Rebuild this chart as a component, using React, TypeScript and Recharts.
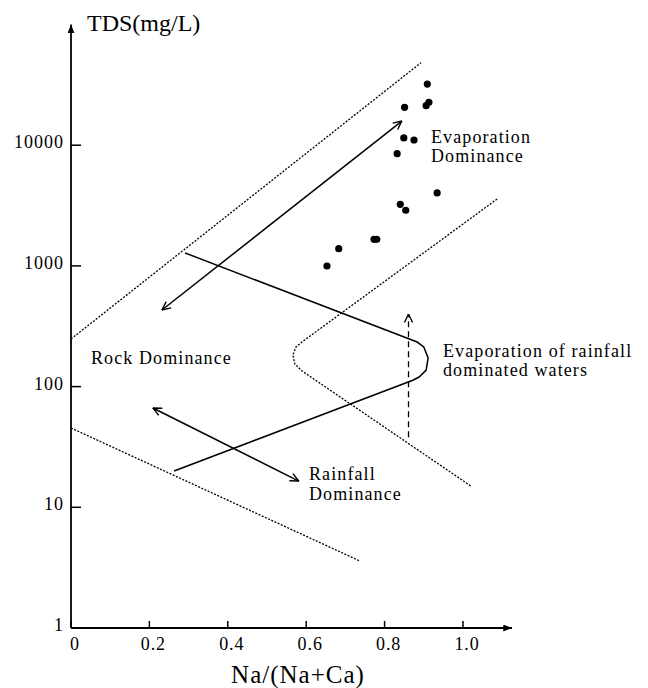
import { ComposedChart, Line, Scatter, XAxis, YAxis } from 'recharts'

const FONT = "'Liberation Serif', 'Times New Roman', serif"

const xTicks = [0, 0.2, 0.4, 0.6, 0.8, 1.0]
const xTickLabels = ['0', '0.2', '0.4', '0.6', '0.8', '1.0']
const yTicks = [1, 10, 100, 1000, 10000]
const yTickLabels = ['1', '10', '100', '1000', '10000']

// water samples, Na/(Na+Ca) vs TDS
const samples = [
  { x: 0.909, y: 32100 },
  { x: 0.913, y: 22700 },
  { x: 0.906, y: 21250 },
  { x: 0.851, y: 20600 },
  { x: 0.849, y: 11480 },
  { x: 0.875, y: 11040 },
  { x: 0.832, y: 8510 },
  { x: 0.934, y: 4020 },
  { x: 0.84, y: 3240 },
  { x: 0.854, y: 2890 },
  { x: 0.773, y: 1660 },
  { x: 0.78, y: 1660 },
  { x: 0.683, y: 1390 },
  { x: 0.653, y: 998 },
]

// dotted envelope lines
const upperBoundary = [
  { x: 0, y: 248 },
  { x: 0.893, y: 48300 },
]
const lowerBoundary = [
  { x: 0, y: 45.4 },
  { x: 0.737, y: 3.59 },
]
const innerBoundary = [
  { x: 1.087, y: 3580 },
  { x: 0.589, y: 234 },
  { x: 0.574, y: 213 },
  { x: 0.566, y: 183 },
  { x: 0.571, y: 154 },
  { x: 0.589, y: 135 },
  { x: 1.02, y: 15 },
]

// solid boomerang
const boomerang = [
  { x: 0.291, y: 1280 },
  { x: 0.883, y: 234 },
  { x: 0.9, y: 213 },
  { x: 0.911, y: 173 },
  { x: 0.906, y: 137 },
  { x: 0.888, y: 120 },
  { x: 0.872, y: 113 },
  { x: 0.263, y: 20 },
]

const evaporationArrow = [
  { x: 0.232, y: 431 },
  { x: 0.844, y: 15850 },
]
const rainfallArrow = [
  { x: 0.209, y: 66.5 },
  { x: 0.581, y: 16.5 },
]
const rainEvapArrow = [
  { x: 0.861, y: 38 },
  { x: 0.861, y: 399 },
]

function XTick({ x, y, payload }: any) {
  const i = xTicks.indexOf(payload.value)
  return (
    <g>
      <line x1={x} y1={y} x2={x} y2={y - 7} stroke="#000" strokeWidth={1.5} />
      <text x={x + 4} y={y + 22} textAnchor="middle" fontSize={18} fontFamily={FONT} fill="#000" letterSpacing={0.9}>
        {xTickLabels[i]}
      </text>
    </g>
  )
}

function YTick({ x, y, payload }: any) {
  const i = yTicks.indexOf(payload.value)
  return (
    <g>
      <line x1={x} y1={y} x2={x + 10} y2={y} stroke="#000" strokeWidth={1.5} />
      <text x={x - 7} y={y + 3} textAnchor="end" fontSize={18} fontFamily={FONT} fill="#000" letterSpacing={1}>
        {yTickLabels[i]}
      </text>
    </g>
  )
}

const dot = (p: any) => <circle cx={p.cx} cy={p.cy} r={3.6} fill="#000" />

const txt = { fontFamily: FONT, fontSize: 18, fill: '#000', letterSpacing: 1.1 }

export default function App() {
  return (
    <div style={{ position: 'absolute', left: 0, top: 0, width: 648, height: 688, background: '#fff' }}>
      <svg width={0} height={0} style={{ position: 'absolute' }}>
        <defs>
          <marker id="openArrow" viewBox="0 0 10 10" refX={9.5} refY={5} markerWidth={10} markerHeight={10}
            markerUnits="userSpaceOnUse" orient="auto-start-reverse">
            <path d="M1,1 L9.5,5 L1,9" fill="none" stroke="#000" strokeWidth={1.4} />
          </marker>
          <marker id="axisArrow" viewBox="0 0 10 8" refX={10} refY={4} markerWidth={9} markerHeight={7}
            markerUnits="userSpaceOnUse" orient="auto-start-reverse">
            <path d="M0,0 L10,4 L0,8 z" fill="#000" />
          </marker>
        </defs>
      </svg>
      <ComposedChart width={648} height={688} margin={{ top: 24.5, right: 136, bottom: 20, left: 11 }}>
        <XAxis
          type="number"
          dataKey="x"
          domain={[0, 1.125]}
          allowDataOverflow
          ticks={xTicks}
          height={40}
          tickSize={0}
          tickMargin={0}
          tickLine={false}
          tick={<XTick />}
          axisLine={{ stroke: '#000', strokeWidth: 1.8, markerEnd: 'url(#axisArrow)' }}
        />
        <YAxis
          type="number"
          dataKey="y"
          scale="log"
          domain={[1, 100000]}
          allowDataOverflow
          ticks={yTicks}
          width={60}
          tickSize={0}
          tickMargin={0}
          tickLine={false}
          tick={<YTick />}
          axisLine={{ stroke: '#000', strokeWidth: 1.8, markerStart: 'url(#axisArrow)' }}
        />
        <Line data={upperBoundary} dataKey="y" type="linear" stroke="#000" strokeWidth={1.3}
          strokeDasharray="2 1.5" dot={false} activeDot={false} isAnimationActive={false} />
        <Line data={lowerBoundary} dataKey="y" type="linear" stroke="#000" strokeWidth={1.3}
          strokeDasharray="2 1.5" dot={false} activeDot={false} isAnimationActive={false} />
        <Line data={innerBoundary} dataKey="y" type="linear" stroke="#000" strokeWidth={1.3}
          strokeDasharray="2 1.5" dot={false} activeDot={false} isAnimationActive={false} />
        <Line data={boomerang} dataKey="y" type="linear" stroke="#000" strokeWidth={1.5}
          dot={false} activeDot={false} isAnimationActive={false} />
        <Line data={evaporationArrow} dataKey="y" type="linear" stroke="#000" strokeWidth={1.5}
          markerStart="url(#openArrow)" markerEnd="url(#openArrow)"
          dot={false} activeDot={false} isAnimationActive={false} />
        <Line data={rainfallArrow} dataKey="y" type="linear" stroke="#000" strokeWidth={1.5}
          markerStart="url(#openArrow)" markerEnd="url(#openArrow)"
          dot={false} activeDot={false} isAnimationActive={false} />
        <Line data={rainEvapArrow} dataKey="y" type="linear" stroke="#000" strokeWidth={1.3}
          strokeDasharray="6 4" markerEnd="url(#openArrow)"
          dot={false} activeDot={false} isAnimationActive={false} />
        <Scatter data={samples} dataKey="y" fill="#000" shape={dot} isAnimationActive={false} />
      </ComposedChart>
      <svg width={648} height={688} style={{ position: 'absolute', left: 0, top: 0, pointerEvents: 'none' }}>
        <text x={87} y={31} fontFamily={FONT} fontSize={24} fill="#000">TDS(mg/L)</text>
        <text x={298} y={683} textAnchor="middle" fontFamily={FONT} fontSize={25} fill="#000" letterSpacing={1}>
          Na/(Na+Ca)
        </text>
        <text x={431} y={143} {...txt}>Evaporation</text>
        <text x={431} y={162} {...txt}>Dominance</text>
        <text x={91} y={364} {...txt}>Rock Dominance</text>
        <text x={309} y={480} {...txt}>Rainfall</text>
        <text x={309} y={500} {...txt}>Dominance</text>
        <text x={443} y={357} {...txt}>Evaporation of rainfall</text>
        <text x={443} y={376} {...txt}>dominated waters</text>
      </svg>
    </div>
  )
}
